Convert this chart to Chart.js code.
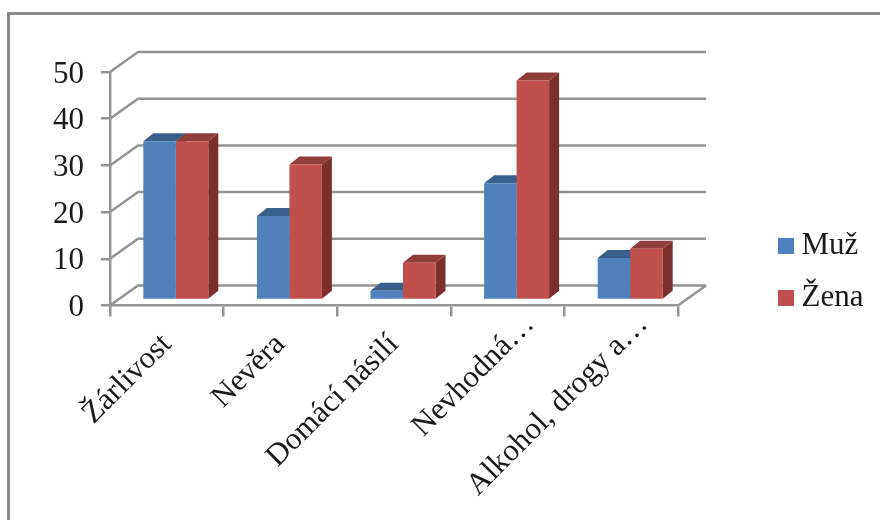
<!DOCTYPE html>
<html><head><meta charset="utf-8">
<style>html,body{margin:0;padding:0;background:#fff}canvas{display:block;filter:blur(0.5px)}</style>
<script src="https://cdn.jsdelivr.net/npm/chart.js@4"></script></head>
<body><canvas id="c" width="880" height="520"></canvas>
<script>
const categories = ["Žárlivost","Nevěra","Domácí násilí","Nevhodná…","Alkohol, drogy a…"];
const muz = [34,18,2,25,9];
const zena = [34,29,8,47,11];
const seriesNames = ["Muž","Žena"];
const seriesColors = ["#4F81BD","#C0504D"];
const tickValues = [0,10,20,30,40,50];

const FONT = "'Liberation Serif','Times New Roman',serif";
const GRID = "#949494";
const WALL = {dx:28, dy:-20};   // back wall offset
const BAR = {dx:9, dy:-5.5};    // bars stand inside the floor
const DEPTH = {dx:10, dy:-8};   // bar depth
const faces = [{top:"#3B5F8C",side:"#375A84"},{top:"#8F3C3A",side:"#7B2E2C"}];

function swatch(color){
  const s=document.createElement("canvas"); s.width=16; s.height=16;
  const x=s.getContext("2d"); x.fillStyle=color; x.fillRect(0,0,16,16);
  return s;
}
const swatches=seriesColors.map(swatch);

const scene = {
  id:"scene",
  beforeLayout(chart){
    const lg=chart.legend;
    if(!lg._wrapped){ const f=lg.fit; lg.fit=function(){ f.call(this); this.width=202; }; lg._wrapped=true; }
  },
  afterLayout(chart){ chart.legend.left=764; chart.legend.top=209; },
  beforeDraw(chart){
    const c=chart.ctx;
    // nudge tick labels: ellipsised labels run past their anchor, value labels sit a little lower
    chart.scales.x.getLabelItems().forEach(it=>{
      if(!it._moved && String(it.label).endsWith("…")){ it.options.translation[0]+=22; it.options.translation[1]-=20; it._moved=true; }
    });
    chart.scales.y.getLabelItems().forEach(it=>{
      if(!it._moved){ it.options.translation[1]+=2.5; it._moved=true; }
    });
    c.save();
    c.strokeStyle="#8a8a8a"; c.lineWidth=3;
    c.beginPath(); c.moveTo(8.5,520); c.lineTo(8.5,13.5); c.lineTo(880,13.5); c.stroke();
    c.restore();
  },
  beforeDatasetsDraw(chart){
    const c=chart.ctx, y=chart.scales.y, a=chart.chartArea;
    c.save();
    c.strokeStyle=GRID; c.lineWidth=2.5; c.lineCap="butt";
    tickValues.forEach(v=>{
      const p=y.getPixelForValue(v);
      c.beginPath();
      c.moveTo(a.left,p); c.lineTo(a.left+WALL.dx,p+WALL.dy); c.lineTo(a.right+WALL.dx,p+WALL.dy);
      c.stroke();
    });
    const p0=y.getPixelForValue(0);
    c.beginPath(); c.moveTo(a.right,p0); c.lineTo(a.right+WALL.dx,p0+WALL.dy); c.stroke();
    c.translate(BAR.dx,BAR.dy);
    chart.data.datasets.forEach((ds,i)=>{
      chart.getDatasetMeta(i).data.forEach(el=>{
        const r=el.getProps(["x","y","width","base"],true);
        const l=r.x-r.width/2, R=r.x+r.width/2;
        c.fillStyle=faces[i].side;
        c.beginPath(); c.moveTo(R,r.y); c.lineTo(R+DEPTH.dx,r.y+DEPTH.dy);
        c.lineTo(R+DEPTH.dx,r.base+DEPTH.dy); c.lineTo(R,r.base); c.closePath(); c.fill();
        c.fillStyle=faces[i].top;
        c.beginPath(); c.moveTo(l,r.y); c.lineTo(l+DEPTH.dx,r.y+DEPTH.dy);
        c.lineTo(R+DEPTH.dx,r.y+DEPTH.dy); c.lineTo(R,r.y); c.closePath(); c.fill();
      });
    });
    c.restore();
    c.save();
    c.translate(BAR.dx,BAR.dy);
  },
  afterDatasetsDraw(chart){ chart.ctx.restore(); }
};

new Chart(document.getElementById("c"),{
  type:"bar",
  data:{labels:categories,datasets:[
    {label:seriesNames[0],data:muz,backgroundColor:seriesColors[0],clip:false},
    {label:seriesNames[1],data:zena,backgroundColor:seriesColors[1],clip:false}
  ]},
  options:{
    responsive:false,animation:false,
    layout:{padding:{left:0,right:0,top:72,bottom:0}},
    datasets:{bar:{categoryPercentage:0.572,barPercentage:1}},
    plugins:{
      title:{display:false},tooltip:{enabled:false},
      legend:{display:true,position:"right",align:"start",
        labels:{usePointStyle:true,boxWidth:1,boxHeight:16,padding:21,color:"#1a1a1a",font:{family:FONT,size:31},
          generateLabels(chart){
            return Chart.defaults.plugins.legend.labels.generateLabels(chart).map((it,i)=>Object.assign(it,{pointStyle:swatches[i]}));
          }}}
    },
    scales:{
      x:{
        afterFit(s){s.height=520-305.5;},
        grid:{drawOnChartArea:false,drawTicks:true,tickLength:11,color:GRID,lineWidth:2.5,offset:true},
        border:{display:true,color:GRID,width:2.5},
        ticks:{autoSkip:false,minRotation:45,maxRotation:45,color:"#1a1a1a",padding:10,font:{family:FONT,size:31}}
      },
      y:{
        min:0,max:50,
        afterFit(s){s.width=110;},
        afterBuildTicks(s){s.ticks=tickValues.map(v=>({value:v}));},
        grid:{drawOnChartArea:false,drawTicks:true,tickLength:9,color:GRID,lineWidth:2.5},
        border:{display:true,color:GRID,width:2.5},
        ticks:{color:"#1a1a1a",padding:17,font:{family:FONT,size:31}}
      }
    }
  },
  plugins:[scene]
});
</script></body></html>
